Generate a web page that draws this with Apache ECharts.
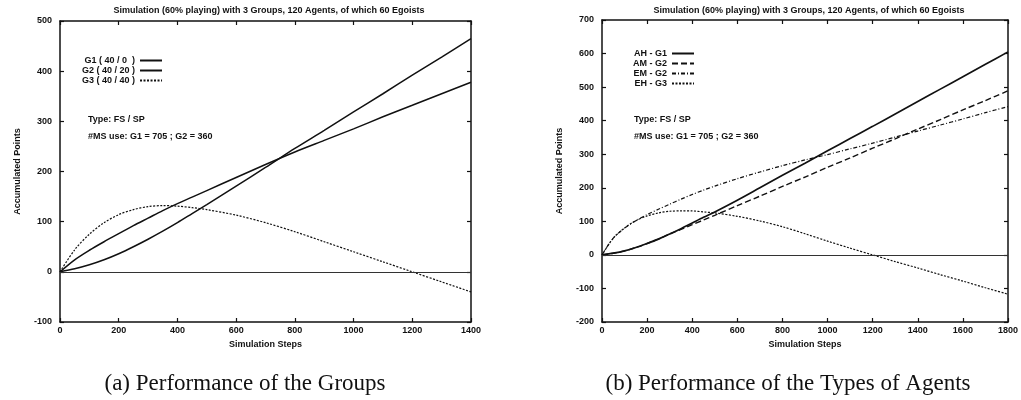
<!DOCTYPE html>
<html>
<head>
<meta charset="utf-8">
<script src="https://cdn.jsdelivr.net/npm/echarts@6/dist/echarts.min.js"></script>
<style>
  html, body { margin: 0; padding: 0; background: #fff; }
  #chart { width: 1021px; height: 400px; }
</style>
</head>
<body>
<div id="chart"></div>
<script>
// left plot: performance of the groups
const stepsA = [0, 50, 100, 150, 200, 250, 300, 350, 400, 450, 500, 600, 700, 800, 900, 1000, 1100, 1200, 1300, 1400]
const g1 = [0, 6, 14, 24, 36, 50, 65, 81, 98, 116, 134, 171, 208, 246, 282, 319, 355, 392, 428, 465]
const g2 = [0, 24, 43, 60, 76, 92, 107, 122, 136, 149, 162, 188, 214, 239, 262, 285, 309, 332, 355, 378]
const g3 = [0, 44, 75, 98, 114, 124, 130, 132, 131, 128, 124, 113, 98, 80, 60, 40, 20, 0, -20, -40]

// right plot: performance of the types of agents
const stepsB = [0, 50, 100, 150, 200, 250, 300, 350, 400, 450, 500, 600, 700, 800, 900, 1000, 1100, 1200, 1300, 1400, 1500, 1600, 1700, 1800]
const ah = [0, 5, 12, 22, 34, 47, 62, 78, 95, 112, 128, 163, 200, 237, 273, 310, 347, 383, 420, 457, 494, 531, 568, 605]
const am = [0, 5, 12, 22, 34, 47, 62, 76, 90, 104, 118, 147, 175, 204, 232, 261, 289, 318, 346, 375, 403, 432, 460, 489]
const em = [0, 50, 80, 102, 120, 136, 151, 166, 180, 193, 205, 227, 247, 266, 283, 299, 316, 333, 351, 369, 387, 405, 424, 442]
const eh = [0, 50, 80, 102, 116, 125, 130, 131, 131, 128, 125, 115, 101, 84, 63, 41, 20, 0, -20, -39, -59, -78, -98, -117]

const namesA = ['G1 ( 40 / 0  )', 'G2 ( 40 / 20 )', 'G3 ( 40 / 40 )']
const namesB = ['AH - G1', 'AM - G2', 'EM - G2', 'EH - G3']

const titleText = 'Simulation (60% playing) with 3 Groups, 120 Agents, of which 60 Egoists'
const ink = '#111'
const sans = 'Liberation Sans, Arial, sans-serif'

const pairs = (xs, ys) => xs.map((x, i) => [x, ys[i]])

const chart = echarts.init(document.getElementById('chart'))

const xAxisOf = (gridIndex, max, withName) => ({
    type: 'value', gridIndex, min: 0, max, interval: 200,
    position: withName ? 'bottom' : 'top',
    name: withName ? 'Simulation Steps' : '',
    nameLocation: 'middle', nameGap: 11,
    nameTextStyle: { color: ink, fontSize: 9, fontWeight: 'bold', fontFamily: sans },
    axisLine: { show: true, onZero: false, lineStyle: { color: ink, width: 1.5 } },
    axisTick: { show: true, inside: true, length: 4, lineStyle: { color: ink, width: 1.2 } },
    axisLabel: { show: withName, color: ink, fontSize: 9, fontWeight: 'bold', fontFamily: sans, margin: 4,
                 formatter: v => String(v) },
    splitLine: { show: false }
})

const yAxisOf = (gridIndex, min, max, withName) => ({
    type: 'value', gridIndex, min, max, interval: 100,
    position: withName ? 'left' : 'right',
    name: withName ? 'Accumulated Points' : '',
    nameLocation: 'middle', nameGap: 38,
    nameTextStyle: { color: ink, fontSize: 9, fontWeight: 'bold', fontFamily: sans },
    axisLine: { show: true, onZero: false, lineStyle: { color: ink, width: 1.5 } },
    axisTick: { show: true, inside: true, length: 4, lineStyle: { color: ink, width: 1.2 } },
    axisLabel: { show: withName, color: ink, fontSize: 9, fontWeight: 'bold', fontFamily: sans, margin: 8,
                 formatter: v => String(v) },
    splitLine: { show: false }
})

const lineSeries = (name, data, xi, yi, dash, width) => ({
    name, type: 'line', xAxisIndex: xi, yAxisIndex: yi,
    data, symbol: 'none', smooth: 0.3,
    lineStyle: { color: ink, width: width || 1.5, type: dash || 'solid' },
    itemStyle: { color: ink },
    emphasis: { disabled: true }
})

const zeroLine = {
    silent: true, symbol: 'none', label: { show: false },
    lineStyle: { color: '#333', width: 1, type: 'solid' },
    data: [{ yAxis: 0 }]
}

const legendOf = (names, left, top) => ({
    data: names, orient: 'vertical', left, top, align: 'right',
    itemWidth: 22, itemHeight: 8, itemGap: 1, padding: 0,
    itemStyle: { opacity: 0 },
    textStyle: { color: ink, fontSize: 9, fontWeight: 'bold', fontFamily: sans },
    selectedMode: false
})

const note = (x, y, text) => ({
    type: 'text', left: x, top: y,
    style: { text, fill: ink, font: 'bold 9px ' + sans }
})

const caption = (x, text) => ({
    type: 'text', x, y: 372,
    style: { text, fill: ink, font: '23px "Liberation Serif", serif', textAlign: 'center' }
})

const sA = [
    lineSeries(namesA[0], pairs(stepsA, g1), 0, 0),
    lineSeries(namesA[1], pairs(stepsA, g2), 0, 0),
    lineSeries(namesA[2], pairs(stepsA, g3), 0, 0, [2, 1.5], 1.2)
]
sA[0].markLine = zeroLine

const sB = [
    lineSeries(namesB[0], pairs(stepsB, ah), 2, 2, 'solid', 1.7),
    lineSeries(namesB[1], pairs(stepsB, am), 2, 2, [6, 3], 1.4),
    lineSeries(namesB[2], pairs(stepsB, em), 2, 2, [4, 2, 1, 2], 1.2),
    lineSeries(namesB[3], pairs(stepsB, eh), 2, 2, [2, 1.5], 1.2)
]
sB[0].markLine = zeroLine

const option = {
    animation: false,
    backgroundColor: '#fff',
    title: [
        { text: titleText, left: 264, top: 1, textAlign: 'center',
          textStyle: { color: ink, fontSize: 9, fontWeight: 'bold', fontFamily: sans } },
        { text: titleText, left: 804, top: 1, textAlign: 'center',
          textStyle: { color: ink, fontSize: 9, fontWeight: 'bold', fontFamily: sans } }
    ],
    legend: [legendOf(namesA, 82, 56), legendOf(namesB, 633, 49)],
    grid: [
        { left: 60, right: 550, top: 21, bottom: 78 },
        { left: 602, right: 8, top: 20, bottom: 78 }
    ],
    xAxis: [xAxisOf(0, 1400, true), xAxisOf(0, 1400, false), xAxisOf(1, 1800, true), xAxisOf(1, 1800, false)],
    yAxis: [yAxisOf(0, -100, 500, true), yAxisOf(0, -100, 500, false), yAxisOf(1, -200, 700, true), yAxisOf(1, -200, 700, false)],
    series: [...sA, ...sB],
    graphic: [
        note(88, 115, 'Type: FS / SP'),
        note(88, 132, '#MS use: G1 = 705 ; G2 = 360'),
        note(634, 115, 'Type: FS / SP'),
        note(634, 132, '#MS use: G1 = 705 ; G2 = 360'),
        caption(245, '(a) Performance of the Groups'),
        caption(788, '(b) Performance of the Types of Agents')
    ]
}

chart.setOption(option)
</script>
</body>
</html>
